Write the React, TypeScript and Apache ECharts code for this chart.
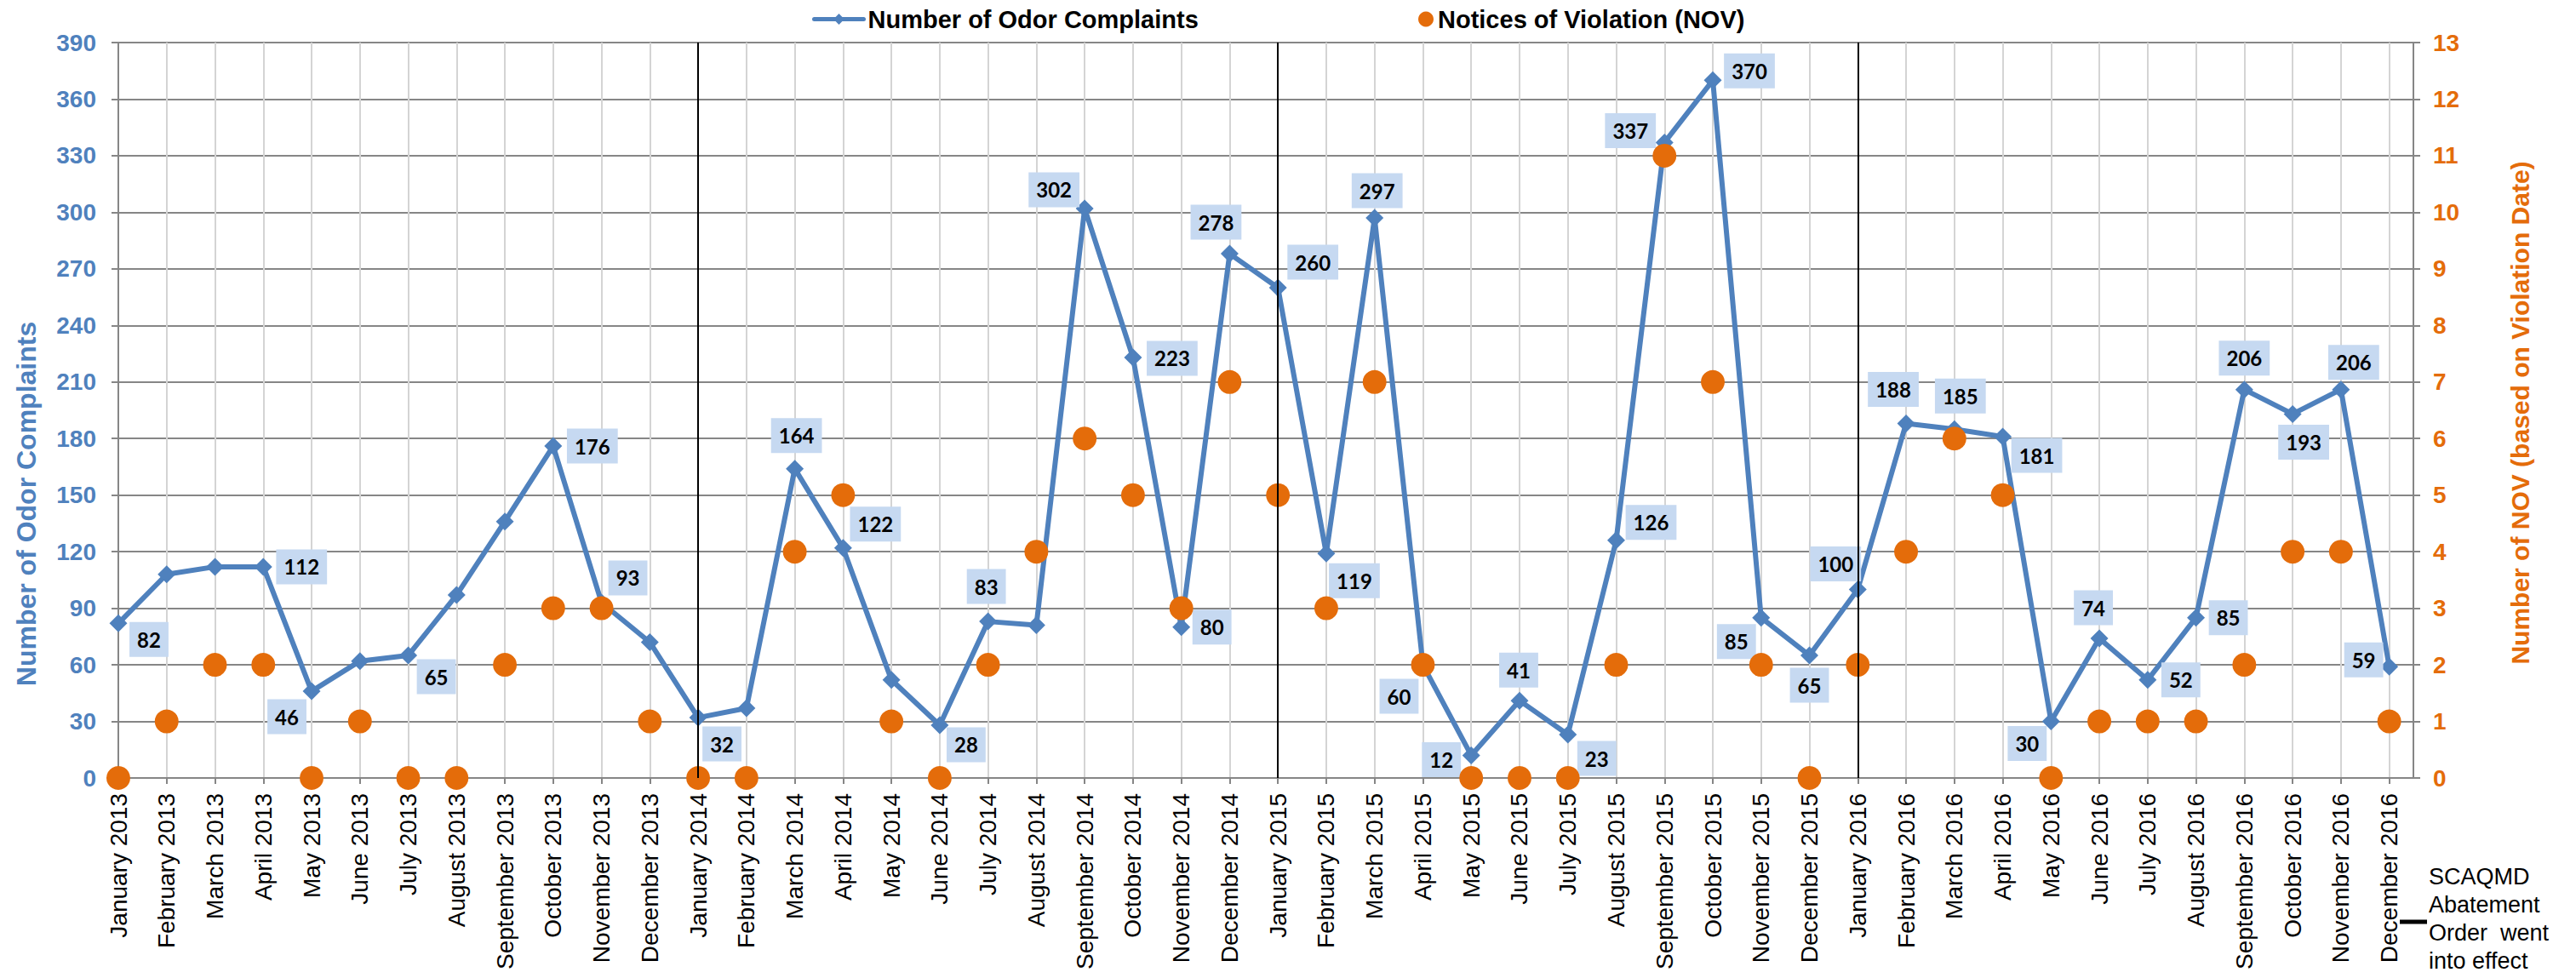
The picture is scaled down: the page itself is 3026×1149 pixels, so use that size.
import React, { useEffect, useRef } from 'react';
import * as echarts from 'echarts';

const monthNames = ['January', 'February', 'March', 'April', 'May', 'June', 'July', 'August', 'September', 'October', 'November', 'December'];
const years = [2013, 2014, 2015, 2016];
const categories: string[] = years.flatMap((y) => monthNames.map((m) => `${m} ${y}`));

const complaints2013 = [82, 108, 112, 112, 46, 62, 65, 97, 136, 176, 93, 72];
const complaints2014 = [32, 37, 164, 122, 52, 28, 83, 81, 302, 223, 80, 278];
const complaints2015 = [260, 119, 297, 60, 12, 41, 23, 126, 337, 370, 85, 65];
const complaints2016 = [100, 188, 185, 181, 30, 74, 52, 85, 206, 193, 206, 59];
const complaints = [...complaints2013, ...complaints2014, ...complaints2015, ...complaints2016];

const nov2013 = [0, 1, 2, 2, 0, 1, 0, 0, 2, 3, 3, 1];
const nov2014 = [0, 0, 4, 5, 1, 0, 2, 4, 6, 5, 3, 7];
const nov2015 = [5, 3, 7, 2, 0, 0, 0, 2, 11, 7, 2, 0];
const nov2016 = [2, 4, 6, 5, 0, 1, 1, 1, 2, 4, 4, 1];
const nov = [...nov2013, ...nov2014, ...nov2015, ...nov2016];

// months where the year separator lines are drawn
const separatorIndices = [12, 24, 36];

const seriesNames = ['Number of Odor Complaints', 'Notices of Violation (NOV)'];
const leftAxisTitle = 'Number of Odor Complaints';
const rightAxisTitle = 'Number of NOV (based on Violation Date)';
const noteText = 'SCAQMD\nAbatement\nOrder  went\ninto effect';

// label placement (pixel offset of label centre from the point), styling only
const labelOffsets: ([number, number] | null)[] = [
  [36, 19], null, null, [45, 0], [-29, 30], null, [33, 25], null, null, [46, 0], [31, -29], null,
  [28, 31], null, [2, -39], [38, -28], null, [31, 23], [-2, -41], null, [-36, -22], [46, 1], [36, 0], [-16, -37],
  [41, -30], [33, 32], [3, -32], [-28, 37], [-35, 5], [-1, -36], [34, 28], [41, -21], [-40, -14], [43, -11], [-29, 28], [0, 35],
  [-26, -30], [-15, -40], [7, -39], [40, 22], [-28, 26], [-7, -36], [39, 0], [38, 0], [0, -37], [13, 33], [15, -32], [-30, -8],
];

const ARIAL = '"Liberation Sans", Arial, sans-serif';
const BLUE = '#4f81bd';
const ORANGE = '#e46c0a';
const GRID_DARK = '#868686';

export default function App() {
  const ref = useRef<HTMLDivElement>(null);

  useEffect(() => {
    const chart = echarts.init(ref.current!, null, { renderer: 'svg' });
    const option: any = {
      animation: false,
      backgroundColor: '#ffffff',
      textStyle: { fontFamily: ARIAL },
      grid: { left: 139, right: 191, top: 50, bottom: 235, containLabel: false },
      legend: [
        {
          data: [seriesNames[0]],
          left: 954,
          top: 8,
          padding: 0,
          itemWidth: 58,
          itemHeight: 16,
          selectedMode: false,
          lineStyle: { width: 5, cap: 'round' },
          textStyle: { fontSize: 29, fontWeight: 'bold', color: '#000', fontFamily: ARIAL },
        },
        {
          data: [seriesNames[1]],
          left: 1666,
          top: 8,
          padding: 0,
          itemWidth: 18,
          itemHeight: 18,
          icon: 'circle',
          selectedMode: false,
          textStyle: { fontSize: 29, fontWeight: 'bold', color: '#000', fontFamily: ARIAL },
        },
      ],
      xAxis: {
        type: 'value',
        min: 0,
        max: 47.5,
        interval: 1,
        axisLine: { show: true, onZero: false, lineStyle: { color: GRID_DARK, width: 2 } },
        axisTick: { show: true, length: 7, lineStyle: { color: GRID_DARK, width: 2 } },
        axisLabel: {
          rotate: 90,
          margin: 18,
          fontSize: 28,
          color: '#000',
          fontFamily: ARIAL,
          showMaxLabel: false,
          formatter: (v: number) => categories[v] ?? '',
        },
        splitLine: { show: true, lineStyle: { color: '#d4d4d4', width: 2 } },
      },
      yAxis: [
        {
          type: 'value',
          min: 0,
          max: 390,
          interval: 30,
          position: 'left',
          axisLine: { show: true, onZero: false, lineStyle: { color: GRID_DARK, width: 2 } },
          axisTick: { show: true, length: 8, lineStyle: { color: GRID_DARK, width: 2 } },
          axisLabel: { margin: 26, fontSize: 28, fontWeight: 'bold', color: BLUE, fontFamily: ARIAL },
          splitLine: { show: true, lineStyle: { color: GRID_DARK, width: 2 } },
        },
        {
          type: 'value',
          min: 0,
          max: 13,
          interval: 1,
          position: 'right',
          axisLine: { show: true, onZero: false, lineStyle: { color: GRID_DARK, width: 2 } },
          axisTick: { show: true, length: 8, lineStyle: { color: GRID_DARK, width: 2 } },
          axisLabel: { margin: 23, fontSize: 28, fontWeight: 'bold', color: ORANGE, fontFamily: ARIAL },
          splitLine: { show: false },
        },
      ],
      series: [
        {
          name: seriesNames[0],
          type: 'line',
          xAxisIndex: 0,
          yAxisIndex: 0,
          clip: false,
          z: 2,
          symbol: 'diamond',
          symbolSize: 21,
          itemStyle: { color: BLUE },
          lineStyle: { color: BLUE, width: 6 },
          label: {
            show: true,
            position: 'inside',
            fontFamily: 'Lato, "Open Sans", sans-serif',
            fontWeight: 'bold',
            fontSize: 24,
            lineHeight: 27,
            color: '#000',
            backgroundColor: '#c6d9f1',
            padding: [7, 9, 7, 9],
            formatter: (p: any) => String(p.value[1]),
          },
          data: complaints.map((v, i) => ({
            value: [i, v],
            label: labelOffsets[i] ? { show: true, offset: labelOffsets[i] } : { show: false },
          })),
          markLine: {
            silent: true,
            symbol: ['none', 'none'],
            label: { show: false },
            lineStyle: { color: '#000', width: 2, type: 'solid' },
            data: separatorIndices.map((x) => ({ xAxis: x })),
          },
          emphasis: { disabled: true },
        },
        {
          name: seriesNames[1],
          type: 'scatter',
          xAxisIndex: 0,
          yAxisIndex: 1,
          z: 3,
          symbol: 'circle',
          symbolSize: 28,
          itemStyle: { color: ORANGE, opacity: 1 },
          data: nov.map((v, i) => [i, v]),
          emphasis: { disabled: true },
        },
      ],
      graphic: [
        {
          type: 'text',
          x: 31,
          y: 592,
          rotation: Math.PI / 2,
          style: {
            text: leftAxisTitle,
            font: `bold 32px ${ARIAL}`,
            fill: BLUE,
            textAlign: 'center',
            textVerticalAlign: 'middle',
            align: 'center',
            verticalAlign: 'middle',
          },
        },
        {
          type: 'text',
          x: 2960,
          y: 485,
          rotation: Math.PI / 2,
          style: {
            text: rightAxisTitle,
            font: `bold 30px ${ARIAL}`,
            fill: ORANGE,
            textAlign: 'center',
            textVerticalAlign: 'middle',
            align: 'center',
            verticalAlign: 'middle',
          },
        },
        {
          type: 'line',
          shape: { x1: 2819, y1: 1083, x2: 2851, y2: 1083 },
          style: { stroke: '#000', lineWidth: 5 },
        },
        {
          type: 'text',
          x: 2853,
          y: 1013,
          style: {
            text: noteText,
            font: `27px ${ARIAL}`,
            lineHeight: 33,
            fill: '#000',
          },
        },
      ],
    };
    chart.setOption(option);
    return () => chart.dispose();
  }, []);

  return (
    <div
      ref={ref}
      style={{ position: 'fixed', left: 0, top: 0, width: 3026, height: 1149, background: '#fff' }}
    />
  );
}
